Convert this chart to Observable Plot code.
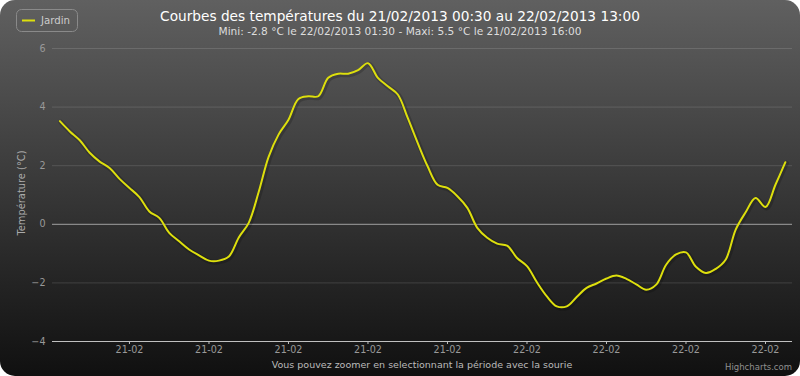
<!DOCTYPE html>
<html>
<head>
<meta charset="utf-8">
<script src="https://cdn.jsdelivr.net/npm/d3@7"></script>
<script src="https://cdn.jsdelivr.net/npm/@observablehq/plot@0.6"></script>
<style>
html,body{margin:0;padding:0;background:#fff;}
#chart{position:relative;width:800px;height:376px;border-radius:15px;overflow:hidden;
  background:linear-gradient(to bottom,#606060,#101010);}
#chart svg{display:block;}
</style>
</head>
<body>
<div id="chart"></div>
<script>
// ---- data ----
const seriesName = "Jardin";
const startTime = "2013-02-21T00:30:00Z";   // first reading
const stepMinutes = 30;                      // one reading every 30 minutes
const temperatures = [
  3.52, 3.17, 2.87, 2.44, 2.14, 1.92, 1.55, 1.24, 0.93, 0.44,
  0.22, -0.29, -0.58, -0.86, -1.06, -1.24, -1.24, -1.10, -0.45, 0.05,
  1.10, 2.30, 3.06, 3.57, 4.28, 4.37, 4.37, 5.00, 5.14, 5.14,
  5.26, 5.50, 5.00, 4.71, 4.43, 3.63, 2.78, 1.98, 1.35, 1.24,
  0.96, 0.56, -0.12, -0.46, -0.66, -0.73, -1.15, -1.43, -1.98, -2.46,
  -2.80, -2.80, -2.48, -2.17, -2.02, -1.85, -1.75, -1.86, -2.05, -2.23,
  -2.06, -1.38, -1.03, -0.96, -1.45, -1.66, -1.52, -1.20, -0.18, 0.41,
  0.90, 0.59, 1.35, 2.12
];
const yTicks = [-4, -2, 0, 2, 4, 6];
const xTickTimes = [
  "2013-02-21T04:00:00Z", "2013-02-21T08:00:00Z", "2013-02-21T12:00:00Z",
  "2013-02-21T16:00:00Z", "2013-02-21T20:00:00Z", "2013-02-22T00:00:00Z",
  "2013-02-22T04:00:00Z", "2013-02-22T08:00:00Z", "2013-02-22T12:00:00Z"
];
const xDomain = ["2013-02-21T00:07:40Z", "2013-02-22T13:21:30Z"];
const titleText = "Courbes des températures du 21/02/2013 00:30 au 22/02/2013 13:00";
const subtitleText = "Mini: -2.8 °C le 22/02/2013 01:30 - Maxi: 5.5 °C le 21/02/2013 16:00";
const yTitle = "Température (°C)";
const xTitle = "Vous pouvez zoomer en selectionnant la période avec la sourie";
const creditText = "Highcharts.com";

// ---- build ----
const t0 = Date.parse(startTime);
const data = temperatures.map((v, i) => ({date: new Date(t0 + i * stepMinutes * 60000), value: v}));
const FONT = "DejaVu Sans, sans-serif";

const svg = Plot.plot({
  width: 800,
  height: 376,
  marginLeft: 52,
  marginRight: 8,
  marginTop: 48,
  marginBottom: 35,
  style: {background: "transparent", color: "#999", fontFamily: FONT, fontSize: "9.6px", overflow: "visible"},
  x: {
    type: "utc",
    domain: xDomain.map(d => new Date(d)),
    ticks: xTickTimes.map(d => new Date(d)),
    tickFormat: d3.utcFormat("%d-%m"),
    tickSize: 3,
    tickPadding: 2,
    label: null
  },
  y: {
    domain: [-4, 6],
    ticks: yTicks,
    tickSize: 0,
    tickPadding: 7,
    label: null
  },
  marks: [
    Plot.ruleY(yTicks.filter(v => v !== 0 && v !== -4), {stroke: "#fff", strokeOpacity: 0.13}),
    Plot.ruleY([0], {stroke: "#a0a0a0"}),
    Plot.ruleY([-4], {stroke: "#c0c0c0"}),
    Plot.line(data, {x: "date", y: "value", curve: "catmull-rom", stroke: "#000", strokeOpacity: 0.18, strokeWidth: 5, dx: 1, dy: 1}),
    Plot.line(data, {x: "date", y: "value", curve: "catmull-rom", stroke: "#DDDF0D", strokeWidth: 2})
  ]
});

const s = d3.select(svg);
s.selectAll("g[aria-label='x-axis'] line, g[aria-label='x-axis tick'] path").attr("stroke", "#c0c0c0");

s.append("text").attr("x", 400).attr("y", 21).attr("text-anchor", "middle")
  .attr("fill", "#fff").style("font-family", FONT).style("font-size", "13.7px").text(titleText);
s.append("text").attr("x", 400).attr("y", 35).attr("text-anchor", "middle")
  .attr("fill", "#ddd").style("font-family", FONT).style("font-size", "10.6px").text(subtitleText);

const lg = s.append("g");
lg.append("rect").attr("x", 16.5).attr("y", 9.5).attr("width", 61).attr("height", 22).attr("rx", 5)
  .attr("fill", "none").attr("stroke", "#8a8a8a");
lg.append("line").attr("x1", 22).attr("x2", 35).attr("y1", 20.5).attr("y2", 20.5)
  .attr("stroke", "#DDDF0D").attr("stroke-width", 2);
lg.append("text").attr("x", 41).attr("y", 24).attr("text-anchor", "start")
  .attr("fill", "#ccc").style("font-family", FONT).style("font-size", "10.2px").text(seriesName);

s.append("text").attr("transform", "translate(24.5,193) rotate(-90)").attr("text-anchor", "middle")
  .attr("fill", "#aaa").style("font-family", FONT).style("font-size", "9.9px").text(yTitle);
s.append("text").attr("x", 422).attr("y", 368).attr("text-anchor", "middle")
  .attr("fill", "#bbb").style("font-family", FONT).style("font-size", "9.5px").text(xTitle);
s.append("text").attr("x", 792).attr("y", 370).attr("text-anchor", "end")
  .attr("fill", "#909090").style("font-family", FONT).style("font-size", "8.5px").text(creditText);

document.getElementById("chart").appendChild(svg);
</script>
</body>
</html>
